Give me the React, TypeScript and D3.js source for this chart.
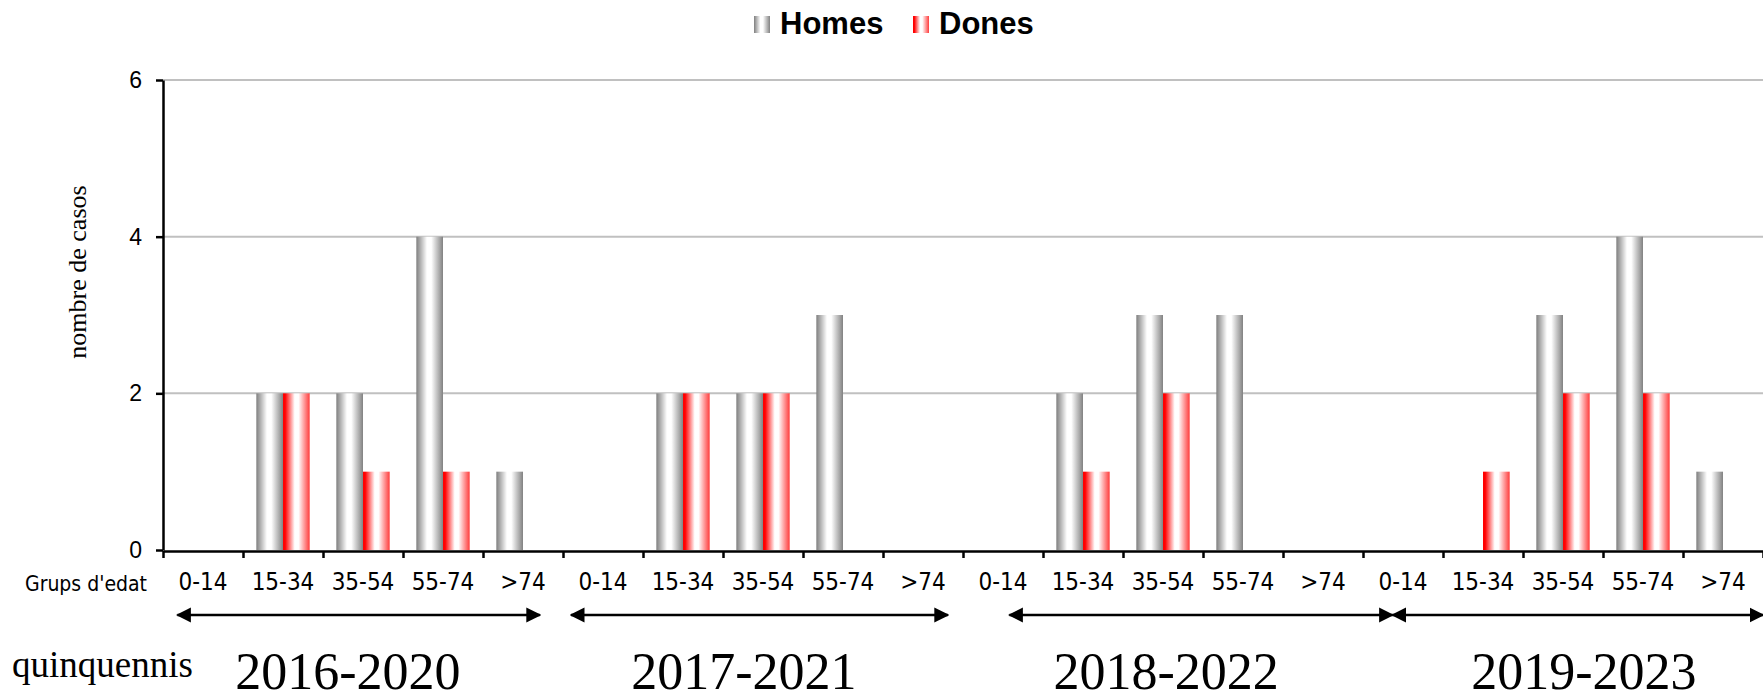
import * as d3 from 'd3';
import { useEffect, useRef } from 'react';

const WIDTH = 1763;
const HEIGHT = 693;
const MARGINS = { top: 80, right: 0, bottom: 143, left: 163 };

const SERIES = ['Homes', 'Dones'];
const AGE_GROUPS = ['0-14', '15-34', '35-54', '55-74', '>74'];
const PERIODS = ['2016-2020', '2017-2021', '2018-2022', '2019-2023'];
// one row per period, one value per age group
const HOMES = [
  [0, 2, 2, 4, 1],
  [0, 2, 2, 3, 0],
  [0, 2, 3, 3, 0],
  [0, 0, 3, 4, 1],
];
const DONES = [
  [0, 2, 1, 1, 0],
  [0, 2, 2, 0, 0],
  [0, 1, 2, 0, 0],
  [0, 1, 2, 2, 0],
];
const Y_TICKS = [0, 2, 4, 6];
// arrow spans and label centres, in category units (hand drawn in the original)
const ARROW_SPANS = [
  [0.18, 4.71],
  [5.1, 9.81],
  [10.58, 15.37],
  [15.37, 20],
];
const LABEL_CENTRES = [2.31, 7.26, 12.54, 17.76];

const GRADIENTS: Record<string, [number, string][]> = {
  Homes: [
    [0, '#7f7f7f'],
    [0.4, '#ffffff'],
    [0.56, '#ffffff'],
    [1, '#828282'],
  ],
  Dones: [
    [0, '#ff0000'],
    [0.08, '#ff0000'],
    [0.44, '#ffffff'],
    [0.58, '#ffffff'],
    [1, '#ff3c3c'],
  ],
};

type Row = { key: string; index: number; label: string; Homes: number; Dones: number };

const rows: Row[] = PERIODS.flatMap((period, p) =>
  AGE_GROUPS.map((age, a) => ({
    key: `${period}-${age}`,
    index: p * AGE_GROUPS.length + a,
    label: age,
    Homes: HOMES[p][a],
    Dones: DONES[p][a],
  })),
);

export default function App() {
  const yAxisRef = useRef<SVGGElement>(null);
  const xAxisRef = useRef<SVGGElement>(null);

  const innerBottom = HEIGHT - MARGINS.bottom;
  const x0 = d3
    .scaleBand<number>()
    .domain(rows.map((r) => r.index))
    .range([MARGINS.left, WIDTH - MARGINS.right])
    .paddingInner(1 / 3)
    .paddingOuter(1 / 6);
  const x1 = d3.scaleBand<string>().domain(SERIES).range([0, x0.bandwidth()]);
  const pos = d3.scaleLinear().domain([0, rows.length]).range(x0.range());
  const y = d3.scaleLinear().domain([0, 6]).range([innerBottom, MARGINS.top]);

  useEffect(() => {
    const yAxis = d3
      .axisLeft(y)
      .tickValues(Y_TICKS)
      .tickFormat(d3.format('d'))
      .tickSize(7)
      .tickSizeOuter(0)
      .tickPadding(14);
    d3.select(yAxisRef.current!)
      .call(yAxis)
      .call((g) => g.select('.domain').attr('stroke', '#000').attr('stroke-width', 2.5))
      .call((g) => g.selectAll('.tick line').attr('stroke', '#000').attr('stroke-width', 2.5))
      .selectAll('text')
      .attr('fill', '#000')
      .style('font-family', "'Liberation Sans', Arial, sans-serif")
      .style('font-size', '23px');

    const xAxis = d3
      .axisBottom(pos)
      .tickValues(d3.range(rows.length + 1))
      .tickFormat(() => '')
      .tickSize(7)
      .tickSizeOuter(0);
    d3.select(xAxisRef.current!)
      .call(xAxis)
      .call((g) => g.select('.domain').attr('stroke', '#000').attr('stroke-width', 2.5))
      .call((g) => g.selectAll('.tick line').attr('stroke', '#000').attr('stroke-width', 2.5));
  });

  const arrowY = 615;

  return (
    <svg
      width={WIDTH}
      height={HEIGHT}
      style={{ position: 'absolute', left: 0, top: 0, background: '#fff' }}
    >
      <defs>
        {SERIES.map((s) => (
          <linearGradient key={s} id={`grad-${s}`} x1='0' x2='1' y1='0' y2='0'>
            {GRADIENTS[s].map(([o, c]) => (
              <stop key={o} offset={o} stopColor={c} />
            ))}
          </linearGradient>
        ))}
        <marker
          id='arrow'
          viewBox='0 0 10 10'
          refX='9'
          refY='5'
          markerWidth='6'
          markerHeight='6.4'
          orient='auto-start-reverse'
          markerUnits='strokeWidth'
        >
          <path d='M0,0L10,5L0,10z' fill='#000' />
        </marker>
      </defs>

      {/* gridlines */}
      {Y_TICKS.filter((t) => t > 0).map((t) => (
        <line
          key={t}
          x1={MARGINS.left}
          x2={WIDTH}
          y1={y(t)}
          y2={y(t)}
          stroke='#c0c0c0'
          strokeWidth={2}
        />
      ))}

      {/* bars */}
      {rows.map((r) => (
        <g key={r.key} transform={`translate(${x0(r.index)},0)`}>
          {SERIES.map((s) => {
            const v = r[s as 'Homes' | 'Dones'];
            if (!v) return null;
            return (
              <rect
                key={s}
                x={x1(s)}
                y={y(v)}
                width={x1.bandwidth()}
                height={y(0) - y(v)}
                fill={`url(#grad-${s})`}
              />
            );
          })}
        </g>
      ))}

      <g ref={yAxisRef} transform={`translate(${MARGINS.left},0)`} />
      <g ref={xAxisRef} transform={`translate(0,${y(0) + 1})`} />

      {/* category labels */}
      {rows.map((r) => (
        <text
          key={r.key}
          x={(x0(r.index) ?? 0) + x0.bandwidth() / 2}
          y={590}
          textAnchor='middle'
          style={{ fontFamily: "'DejaVu Sans Condensed', 'DejaVu Sans', sans-serif", fontSize: 24, fontStretch: 'condensed' }}
        >
          {r.label}
        </text>
      ))}
      <text
        x={147}
        y={591}
        textAnchor='end'
        style={{ fontFamily: "'DejaVu Sans Condensed', 'DejaVu Sans', sans-serif", fontSize: 21, fontStretch: 'condensed' }}
      >
        Grups d'edat
      </text>

      {/* y label */}
      <text
        transform={`translate(86,272) rotate(-90)`}
        textAnchor='middle'
        style={{ fontFamily: "'Liberation Serif', 'Times New Roman', serif", fontSize: 26 }}
      >
        nombre de casos
      </text>

      {/* period arrows */}
      {ARROW_SPANS.map(([a, b], i) => (
        <line
          key={i}
          x1={pos(a)}
          x2={pos(b)}
          y1={arrowY}
          y2={arrowY}
          stroke='#000'
          strokeWidth={2.5}
          markerStart='url(#arrow)'
          markerEnd='url(#arrow)'
        />
      ))}
      {PERIODS.map((p, i) => (
        <text
          key={p}
          x={pos(LABEL_CENTRES[i])}
          y={689}
          textAnchor='middle'
          style={{ fontFamily: "'Liberation Serif', 'Times New Roman', serif", fontSize: 52 }}
        >
          {p}
        </text>
      ))}
      <text
        x={12}
        y={677}
        style={{ fontFamily: "'Liberation Serif', 'Times New Roman', serif", fontSize: 37 }}
      >
        quinquennis
      </text>

      {/* legend */}
      {SERIES.map((s, i) => {
        const lx = [754, 913][i];
        return (
          <g key={s}>
            <rect x={lx} y={16} width={16} height={17} fill={`url(#grad-${s})`} />
            <text
              x={lx + 26}
              y={34}
              style={{ fontFamily: "'Liberation Sans', Arial, sans-serif", fontSize: 31, fontWeight: 'bold' }}
            >
              {s}
            </text>
          </g>
        );
      })}
    </svg>
  );
}
